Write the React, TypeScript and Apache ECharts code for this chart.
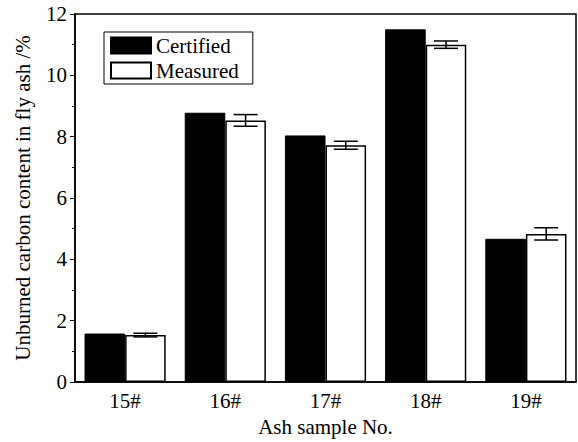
import React, { useEffect, useRef } from "react";
import * as echarts from "echarts";

const categories = ["15#", "16#", "17#", "18#", "19#"];
const certified = [1.58, 8.78, 8.04, 11.5, 4.67];
const measured = [1.53, 8.53, 7.72, 11.0, 4.83];
const measuredErr = [0.06, 0.19, 0.13, 0.12, 0.2];
const yTicks = [0, 2, 4, 6, 8, 10, 12];

const FONT = "Liberation Serif";

export default function App() {
  const ref = useRef<HTMLDivElement>(null);
  useEffect(() => {
    if (!ref.current) return;
    const chart = echarts.init(ref.current, undefined, { renderer: "svg" });
    const errData = measured.map((v, i) => [i, v - measuredErr[i], v + measuredErr[i]]);
    const txt = { fontFamily: FONT, fontSize: 21, color: "#000" };
    chart.setOption({
      animation: false,
      backgroundColor: "#fff",
      textStyle: { fontFamily: FONT, color: "#000", fontSize: 21 },
      grid: {
        left: 75,
        right: 2,
        top: 14,
        bottom: 57,
        show: true,
        borderColor: "#000",
        borderWidth: 1.5,
        backgroundColor: "transparent",
      },
      legend: {
        data: ["Certified", "Measured"],
        orient: "vertical",
        left: 104,
        top: 32,
        icon: "rect",
        itemWidth: 40,
        itemHeight: 16,
        itemGap: 4,
        padding: [3, 14, 3, 6],
        borderColor: "#000",
        borderWidth: 1,
        textStyle: txt,
      },
      xAxis: {
        type: "category",
        data: categories,
        name: "Ash sample No.",
        nameLocation: "middle",
        nameGap: 34,
        nameTextStyle: txt,
        axisLine: { lineStyle: { color: "#000", width: 1.5 } },
        axisTick: { show: false },
        axisLabel: { ...txt, margin: 8 },
      },
      yAxis: {
        type: "value",
        min: yTicks[0],
        max: yTicks[yTicks.length - 1],
        interval: 2,
        name: "Unburned carbon content in fly ash /%",
        nameLocation: "middle",
        nameGap: 42,
        nameTextStyle: txt,
        axisLine: { show: true, lineStyle: { color: "#000", width: 1.5 } },
        axisTick: { show: true, length: 5, lineStyle: { color: "#000" } },
        minorTick: { show: true, splitNumber: 2, length: 3, lineStyle: { color: "#000" } },
        splitLine: { show: false },
        axisLabel: { ...txt, margin: 8 },
      },
      series: [
        {
          name: "Certified",
          type: "bar",
          data: certified,
          barGap: "0%",
          barCategoryGap: "19%",
          itemStyle: { color: "#000", borderColor: "#000", borderWidth: 1 },
        },
        {
          name: "Measured",
          type: "bar",
          data: measured,
          barGap: "0%",
          barCategoryGap: "19%",
          itemStyle: { color: "#fff", borderColor: "#000", borderWidth: 1.5 },
        },
        {
          name: "err",
          type: "custom",
          data: errData,
          z: 10,
          renderItem: (params: any, api: any) => {
            const idx = api.value(0);
            const lo = api.coord([idx, api.value(1)]);
            const hi = api.coord([idx, api.value(2)]);
            const bw = api.size([1, 0])[0];
            const x = lo[0] + bw * 0.2025;
            const half = 12;
            const style = { stroke: "#000", lineWidth: 1.5 };
            return {
              type: "group",
              children: [
                { type: "line", shape: { x1: x, y1: lo[1], x2: x, y2: hi[1] }, style },
                { type: "line", shape: { x1: x - half, y1: lo[1], x2: x + half, y2: lo[1] }, style },
                { type: "line", shape: { x1: x - half, y1: hi[1], x2: x + half, y2: hi[1] }, style },
              ],
            };
          },
        },
      ],
    });
    return () => chart.dispose();
  }, []);
  return <div ref={ref} style={{ width: 578, height: 442, position: "absolute", left: 0, top: 0 }} />;
}
